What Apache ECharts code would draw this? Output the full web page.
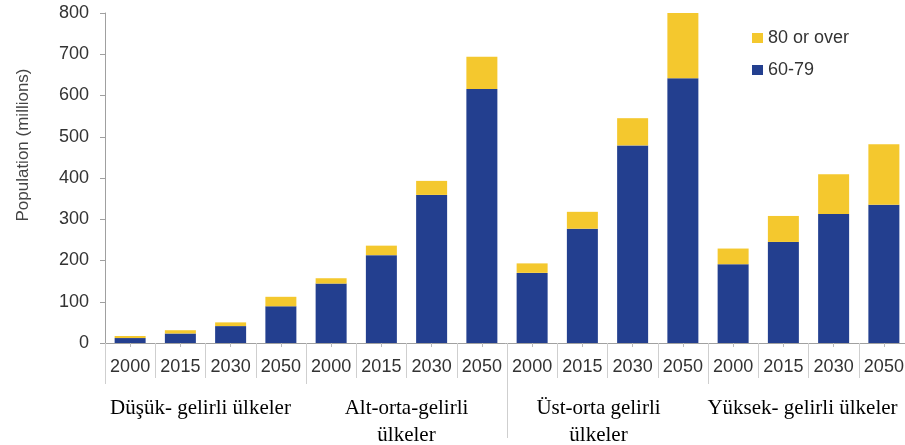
<!DOCTYPE html>
<html>
<head>
<meta charset="utf-8">
<script src="https://cdn.jsdelivr.net/npm/echarts@6/dist/echarts.min.js"></script>
<style>
  html, body { margin: 0; padding: 0; background: #fff; }
  #chart { width: 905px; height: 445px; }
</style>
</head>
<body>
<div id="chart"></div>
<script>
// categories
const years = ['2000', '2015', '2030', '2050', '2000', '2015', '2030', '2050',
               '2000', '2015', '2030', '2050', '2000', '2015', '2030', '2050'];
const groups = ['Düşük- gelirli ülkeler', 'Alt-orta-gelirli\nülkeler',
                'Üst-orta gelirli\nülkeler', 'Yüksek- gelirli ülkeler'];
// population, millions
const age6079 = [12, 23, 41, 89, 144, 213, 359, 616, 170, 277, 479, 642, 191, 245, 313, 335];
const age80 = [5, 8, 9, 23, 13, 23, 34, 78, 23, 41, 66, 158, 38, 63, 96, 147];
const yTicks = { min: 0, max: 800, interval: 100 };

const BLUE = '#233f8f', YELLOW = '#f4c82e';
const SEP = '#cfcfcf';

const chart = echarts.init(document.getElementById('chart'));
chart.setOption({
  backgroundColor: '#fff',
  animation: false,
  grid: { left: 105, right: -4, top: 13, bottom: 102, containLabel: false, outerBoundsMode: 'none' },
  legend: {
    orient: 'vertical', left: 747, top: 24,
    itemWidth: 11, itemHeight: 10, itemGap: 14,
    icon: 'rect',
    data: ['80 or over', '60-79'],
    textStyle: { fontFamily: 'Liberation Sans', fontSize: 18, color: '#333' }
  },
  xAxis: [
    {
      type: 'category', data: years, position: 'bottom',
      axisLine: { lineStyle: { color: '#a0a0a0', width: 1 } },
      axisTick: { show: true, length: 35, lineStyle: { color: SEP } },
      axisLabel: { fontFamily: 'Liberation Sans', fontSize: 18, color: '#333', margin: 15, interval: 0 }
    },
    {
      type: 'category', data: years, position: 'bottom',
      axisLine: { show: false },
      axisTick: { show: true, alignWithLabel: true, length: 4, lineStyle: { color: '#bbb' } },
      axisLabel: { show: false }
    },
    {
      type: 'category', position: 'bottom',
      data: [
        { value: groups[0], textStyle: { padding: [0, 10, 0, 0] } },
        { value: groups[1] },
        { value: groups[2], textStyle: { padding: [0, 18, 0, 0] } },
        { value: groups[3], textStyle: { padding: [0, 12, 0, 0] } }
      ],
      axisLine: { show: false },
      axisTick: { show: true, length: 41, lineStyle: { color: SEP } },
      axisLabel: {
        fontFamily: 'Liberation Serif', fontSize: 21, color: '#000',
        lineHeight: 27, margin: 52, interval: 0
      }
    },
    {
      type: 'value', position: 'bottom', min: 0, max: 2,
      axisLine: { show: false }, splitLine: { show: false },
      axisLabel: { show: false },
      axisTick: { show: true, customValues: [1], length: 95, lineStyle: { color: SEP } }
    }
  ],
  yAxis: {
    type: 'value', ...yTicks,
    name: 'Population (millions)', nameLocation: 'middle', nameGap: 73, nameRotate: 90,
    nameTextStyle: { fontFamily: 'Liberation Sans', fontSize: 17, color: '#444', padding: [0, 0, 0, 66] },
    axisLine: { show: true, lineStyle: { color: '#a0a0a0' } },
    axisTick: { show: true, length: 5, lineStyle: { color: '#a0a0a0' } },
    splitLine: { show: false },
    axisLabel: { fontFamily: 'Liberation Sans', fontSize: 18, color: '#333', margin: 16 }
  },
  series: [
    {
      name: '60-79', type: 'bar', stack: 'pop', data: age6079,
      barWidth: 31, itemStyle: { color: BLUE }
    },
    {
      name: '80 or over', type: 'bar', stack: 'pop', data: age80,
      barWidth: 31, itemStyle: { color: YELLOW }
    }
  ]
});
</script>
</body>
</html>
